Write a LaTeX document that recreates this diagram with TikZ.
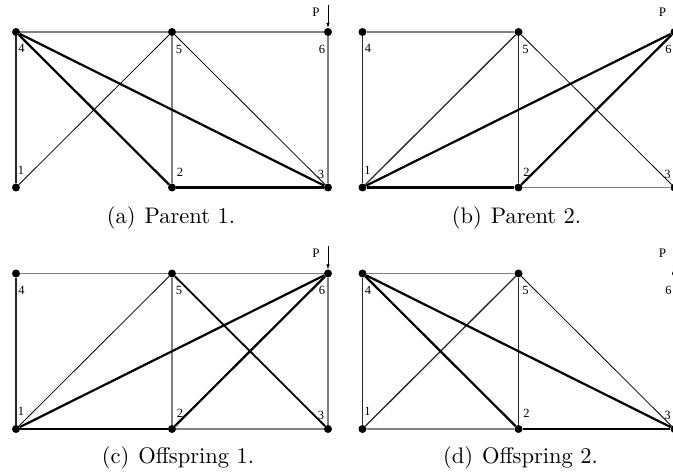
\documentclass[tikz,border=0pt]{standalone}
\usepackage{fontspec}
\newfontfamily\labfont{Liberation Serif}
\newfontfamily\capfont[Extension=.otf]{lmroman10-regular}
\usetikzlibrary{arrows.meta}
\tikzset{
  trdot/.style={circle,fill=black,inner sep=0pt,minimum size=8pt},
  trsmalldot/.style={circle,fill=black,inner sep=0pt,minimum size=5pt},
  trnum/.style={font=\labfont\fontsize{12.5}{12.5}\selectfont,inner sep=0pt},
  captxt/.style={font=\capfont\fontsize{22.5}{26}\selectfont,anchor=base,inner sep=0pt},
  wthin/.style={line width=0.8pt,black},
  wgray/.style={line width=1.2pt,black!50},
  wmed/.style={line width=1.3pt,black!85},
  wmt/.style={line width=1.8pt,black},
  wthick/.style={line width=2.2pt,black},
  trload/.style={line width=0.7pt,-{Latex[length=5pt,width=3.5pt]}},
}
\newcommand{\truss}[1]{%
  \node[trdot] (#1-4) at (16,32) {};
  \node[trdot] (#1-5) at (172,32) {};
  \node[trdot] (#1-1) at (16,187.5) {};
  \node[trdot] (#1-2) at (172,187.5) {};
  \node[trdot] (#1-3) at (328,187.5) {};
  \node[trnum] (#1-l4) at (21.5,48.5) {4};
  \node[trnum] (#1-l5) at (179,49) {5};
  \node[trnum] (#1-l6) at (322,49) {6};
  \node[trnum] (#1-l1) at (21,170) {1};
  \node[trnum] (#1-l2) at (180,172) {2};
  \node[trnum] (#1-l3) at (321,174) {3};
  \node[trnum,font=\labfont\fontsize{13}{13}\selectfont] (#1-P) at (316,12) {P};
  \coordinate (#1-top) at (328,5);
}
\begin{document}
\begin{tikzpicture}[x=1pt,y=-1pt]
\useasboundingbox (0,0) rectangle (673,476);
% (a) Parent 1
\begin{scope}
  \truss{a}
  \node[trdot] (a-6) at (328,32) {};
  \draw[wgray] (a-4) -- (a-5);
  \draw[wgray] (a-5) -- (a-6);
  \draw[wgray] (a-6) -- (a-3);
  \draw[wgray] (a-5) -- (a-2);
  \draw[wmed] (a-4) -- (a-1);
  \draw[wthin] (a-1) -- (a-5);
  \draw[wthin] (a-5) -- (a-3);
  \draw[wthick] (a-4) -- (a-2);
  \draw[wthick] (a-4) -- (a-3);
  \draw[wthick] (a-2) -- (a-3);
  \draw[trload] (a-top) -- (a-6);
  \node[captxt] (a-cap) at (171,224) {(a)\hspace{0.4em}Parent 1.};
\end{scope}
% (b) Parent 2
\begin{scope}[shift={(346.5,0)}]
  \truss{b}
  \node[trdot] (b-6) at (328,32) {};
  \draw[wgray] (b-4) -- (b-5);
  \draw[wgray] (b-2) -- (b-3);
  \draw[wmed] (b-4) -- (b-1);
  \draw[wmed] (b-5) -- (b-2);
  \draw[wmed] (b-1) -- (b-5);
  \draw[wthin] (b-5) -- (b-3);
  \draw[wthick] (b-1) -- (b-6);
  \draw[wthick] (b-2) -- (b-6);
  \draw[wthick] (b-1) -- (b-2);
  \draw[trload] (b-top) -- (b-6);
  \node[captxt] (b-cap) at (170,224) {(b)\hspace{0.4em}Parent 2.};
\end{scope}
% (c) Offspring 1
\begin{scope}[shift={(0,241.5)}]
  \truss{c}
  \node[trdot] (c-6) at (328,32) {};
  \draw[wgray] (c-4) -- (c-5);
  \draw[wgray] (c-5) -- (c-6);
  \draw[wgray] (c-6) -- (c-3);
  \draw[wgray] (c-5) -- (c-2);
  \draw[wgray] (c-2) -- (c-3);
  \draw[wmed] (c-4) -- (c-1);
  \draw[wthin] (c-1) -- (c-5);
  \draw[wmt] (c-5) -- (c-3);
  \draw[wthick] (c-1) -- (c-6);
  \draw[wthick] (c-2) -- (c-6);
  \draw[wthick] (c-1) -- (c-2);
  \draw[trload] (c-top) -- (c-6);
  \node[captxt] (c-cap) at (178,222) {(c)\hspace{0.4em}Offspring 1.};
\end{scope}
% (d) Offspring 2
\begin{scope}[shift={(346.5,241.5)}]
  \truss{d}
  \node[trsmalldot] (d-6) at (328,32) {};
  \draw[wgray] (d-4) -- (d-5);
  \draw[wgray] (d-1) -- (d-2);
  \draw[wmed] (d-4) -- (d-1);
  \draw[wmed] (d-5) -- (d-2);
  \draw[wmed] (d-1) -- (d-5);
  \draw[wthin] (d-5) -- (d-3);
  \draw[wthick] (d-4) -- (d-2);
  \draw[wthick] (d-4) -- (d-3);
  \draw[wthick] (d-2) -- (d-3);
  \draw[trload] (d-top) -- (d-6);
  \node[captxt] (d-cap) at (174,222) {(d)\hspace{0.4em}Offspring 2.};
\end{scope}
\end{tikzpicture}
\end{document}
